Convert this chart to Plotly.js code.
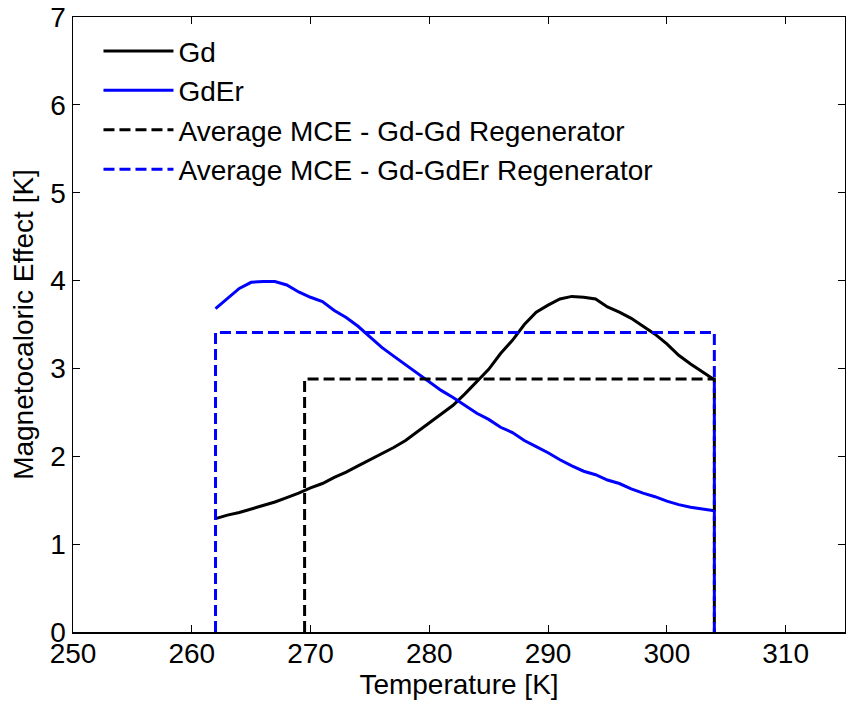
<!DOCTYPE html>
<html>
<head>
<meta charset="utf-8">
<script src="https://cdn.plot.ly/plotly-3.0.1.min.js"></script>
<style>html,body{margin:0;padding:0;background:#fff;}#chart{width:846px;height:708px;}</style>
</head>
<body>
<div id="chart"></div>
<script>
// Temperatures [K]
const temperature = [262,263,264,265,266,267,268,269,270,271,272,273,274,275,276,277,278,279,280,281,282,283,284,285,286,287,288,289,290,291,292,293,294,295,296,297,298,299,300,301,302,303,304];
// Magnetocaloric effect [K]
const gdMCE = [1.29,1.33,1.36,1.40,1.44,1.48,1.53,1.58,1.64,1.69,1.76,1.82,1.89,1.96,2.03,2.10,2.18,2.28,2.37,2.48,2.58,2.71,2.85,2.99,3.17,3.32,3.50,3.64,3.72,3.79,3.82,3.81,3.79,3.70,3.64,3.57,3.48,3.39,3.28,3.15,3.05,2.96,2.87];
const gdErMCE = [3.68,3.80,3.91,3.98,3.99,3.99,3.95,3.87,3.81,3.76,3.66,3.58,3.48,3.36,3.24,3.14,3.04,2.95,2.85,2.75,2.67,2.58,2.49,2.42,2.33,2.27,2.18,2.11,2.04,1.96,1.89,1.83,1.79,1.73,1.69,1.63,1.58,1.54,1.49,1.45,1.42,1.40,1.38];
// Average MCE regenerator outlines
const avgGdX = [269.5,269.5,304,304];
const avgGdY = [0,2.88,2.88,0];
const avgGdErX = [262,262,304,304];
const avgGdErY = [0,3.41,3.41,0];
const seriesNames = ["Gd","GdEr","Average MCE - Gd-Gd Regenerator","Average MCE - Gd-GdEr Regenerator"];
const xTicks = [250,260,270,280,290,300,310];
const yTicks = [0,1,2,3,4,5,6,7];

const FONT = "Liberation Sans, Arial, Helvetica, sans-serif";
const traces = [
  {x: temperature, y: gdMCE, name: seriesNames[0], mode: "lines", line: {color: "#000000", width: 3}},
  {x: temperature, y: gdErMCE, name: seriesNames[1], mode: "lines", line: {color: "#0000ff", width: 3}},
  {x: avgGdX, y: avgGdY, name: seriesNames[2], mode: "lines", line: {color: "#000000", width: 3, dash: "11px,5px"}},
  {x: avgGdErX, y: avgGdErY, name: seriesNames[3], mode: "lines", line: {color: "#0000ff", width: 3, dash: "11px,5px"}}
];
const axisCommon = {
  showgrid: false, zeroline: false, showline: true, linecolor: "#000", linewidth: 1.5,
  mirror: "ticks", ticks: "inside", ticklen: 7, tickwidth: 1, tickcolor: "#000",
  tickfont: {family: FONT, size: 28, color: "#000"}
};
const layout = {
  width: 846, height: 708,
  margin: {l: 73, r: 1, t: 17, b: 76},
  paper_bgcolor: "#fff", plot_bgcolor: "#fff",
  font: {family: FONT, color: "#000"},
  showlegend: true,
  legend: {x: 0.033, y: 0.985, xanchor: "left", yanchor: "top", bgcolor: "rgba(0,0,0,0)",
           borderwidth: 0, itemwidth: 70, font: {family: FONT, size: 28, color: "#000"}},
  xaxis: Object.assign({}, axisCommon, {range: [250, 315], tickmode: "array", tickvals: xTicks,
    ticklabelstandoff: -4,
    title: {text: "Temperature [K]", font: {family: FONT, size: 28, color: "#000"}, standoff: 6}}),
  yaxis: Object.assign({}, axisCommon, {range: [0, 7], tickmode: "array", tickvals: yTicks,
    title: {text: "Magnetocaloric Effect [K]", font: {family: FONT, size: 28, color: "#000"}, standoff: 8}})
};
Plotly.newPlot("chart", traces, layout, {displayModeBar: false, staticPlot: true});
</script>
</body>
</html>
